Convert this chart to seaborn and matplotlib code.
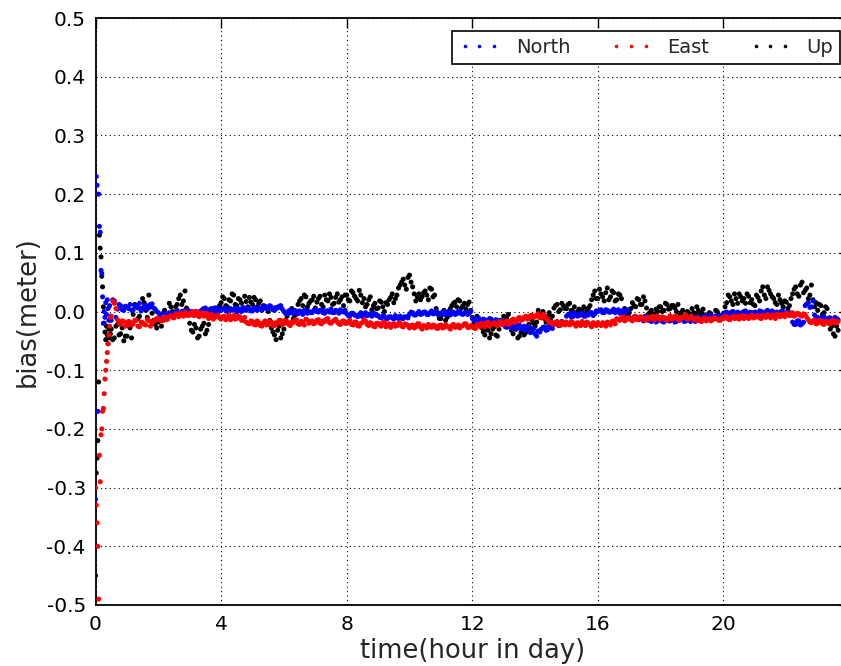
import numpy as np
import pandas as pd
import matplotlib
matplotlib.use("Agg")
import matplotlib.pyplot as plt
import seaborn as sns
from matplotlib.lines import Line2D
from matplotlib.ticker import MultipleLocator, FixedLocator, FuncFormatter

# ---------------- data (in millimetres) -------------
# convergence phase: 0.000 .. 0.475 h
early_hours = [0.000, 0.025, 0.050, 0.075, 0.100, 0.125, 0.150, 0.175, 0.200, 0.225,
               0.250, 0.275, 0.300, 0.325, 0.350, 0.375, 0.400, 0.425, 0.450, 0.475]
north_early_mm = [-320, 230, 215, -170, 200, 145, 135, 70, 65, 25,
                  -20, 0, -10, 15, -5, 20, 5, -15, 10, -8]
east_early_mm = [-300, -330, -360, -400, -490, -245, -290, -210, -200, -170,
                 -165, -140, -115, -100, -85, -70, -55, -40, -25, -10]
up_early_mm = [-450, -275, -250, -220, -120, 130, 108, 93, 60, 42,
               8, -20, -35, -48, -25, -40, -55, -30, -45, -38]

# steady phase, first sample set: 0.50 .. 23.60 h every 0.1 h
main_hours = [round(k / 10, 2) for k in range(5, 237)]
# steady phase, second sample set: 0.55 .. 23.65 h every 0.1 h
main_hours_b = [round(k / 10 + 0.05, 2) for k in range(5, 237)]

north_mm = [
    -15, 18, 4, 10, 2,
    8, 12, 3, 9, 14, 5, 11, 7, 13, 4,
    -2, -7, -4, -8, -3, -6, 2, -4, 1, -5,
    -3, -6, 0, -4, 3, 6, 1, 5, 0, 4,
    2, 6, 0, 5, 3, -1, 4, 7, 2, 5,
    1, 4, 7, 3, 9, 5, 8, 2, 6, 10,
    0, -4, 2, -3, -1, 1, -5, 2, 0, -2,
    3, -1, 2, -3, 1, 4, -2, 0, 3, -1,
    -4, -8, -3, -7, -5, -9, -2, -6, -8, -4,
    -7, -11, -8, -12, -9, -13, -10, -8, -12, -9,
    -5, -2, -6, 0, -4, -1, -5, 1, -3, -2,
    -4, 0, -3, -6, -1, -4, 1, -5, -2, -3,
    -12, -16, -11, -18, -14, -17, -13, -19, -15, -21,
    -22, -27, -20, -25, -29, -23, -28, -32, -26, -35,
    -38, -33, -30, -26, -31, -25, -22, -18, -23, -19,
    -8, -4, -9, -5, -7, -3, -8, -6, -2, -4,
    0, 3, -2, 2, -1, 4, 1, -3, 2, 0,
    -10, -13, -9, -14, -12, -8, -15, -17, -13, -16,
    -14, -18, -12, -16, -13, -17, -15, -11, -16, -14,
    -13, -17, -10, -14, -8, -11, -6, -10, -7, -9,
    -5, -1, -4, 0, -3, -6, -2, 1, -4, -2,
    -1, -4, 0, -3, 2, -2, -5, -1, -3, 0,
    -4, -2, -18, -22, -16, -21, 10, 15, 8, -6,
    -10, -14, -9, -13, -11, -15, -12,
]
north_mm_b = [
    20, -10, 12, 3, 9,
    5, 2, 10, 6, 1, 9, 4, 12, 6, 0,
    -6, -3, -9, -2, -6, -1, -5, 0, -6, 2,
    0, -2, -6, 1, 5, 1, 4, 0, 6, 2,
    5, 1, 4, 2, 6, 3, 0, 3, 5, 1,
    6, 2, 4, 8, 5, 10, 3, 7, 9, 4,
    -3, 1, -2, 2, -4, -1, 2, -3, -2, 2,
    0, 2, -2, 1, -1, -2, 2, -3, 0, 2,
    -7, -3, -6, -9, -2, -5, -7, -4, -3, -7,
    -10, -7, -13, -9, -11, -7, -12, -11, -9, -11,
    -1, -6, -3, -5, -1, -5, -2, -4, 0, -5,
    -1, -5, 0, -2, -5, 0, -4, -2, -5, 0,
    -15, -12, -17, -13, -19, -12, -18, -14, -20, -16,
    -26, -21, -28, -22, -24, -30, -25, -27, -36, -30,
    -42, -35, -27, -32, -24, -29, -19, -24, -17, -22,
    -5, -9, -3, -8, -4, -8, -5, -2, -7, 1,
    2, -2, 3, -1, 1, -2, 3, 0, -2, 3,
    -14, -9, -13, -10, -16, -12, -11, -14, -18, -12,
    -17, -13, -16, -12, -18, -14, -12, -17, -13, -17,
    -10, -13, -16, -9, -12, -7, -12, -8, -11, -6,
    -2, -5, -1, -5, -1, -3, 0, -4, -1, -5,
    -3, 1, -2, 0, -4, 1, -2, -4, 1, -3,
    -1, -6, -22, -16, -23, -18, 13, 7, 18, -10,
    -13, -9, -15, -11, -14, -10, -14,
]

east_mm = [
    -8, 14, -14, -22, -17,
    -24, -18, -21, -15, -26, -19, -23, -16, -20, -14,
    -12, -16, -9, -13, -7, -11, -6, -3, -8, -2,
    -6, 0, -4, -9, -2, -7, -12, -5, -10, -6,
    -13, -8, -11, -14, -7, -12, -9, -15, -18, -21,
    -17, -23, -19, -25, -16, -22, -18, -24, -20, -15,
    -21, -17, -24, -19, -14, -22, -18, -13, -20, -16,
    -19, -14, -21, -17, -12, -20, -15, -18, -22, -16,
    -20, -15, -23, -18, -25, -19, -16, -24, -21, -26,
    -20, -25, -18, -23, -27, -21, -24, -19, -26, -22,
    -28, -23, -26, -21, -30, -25, -22, -27, -24, -29,
    -23, -27, -25, -30, -22, -26, -28, -24, -21, -27,
    -25, -29, -23, -20, -26, -18, -22, -19, -24, -17,
    -21, -16, -20, -13, -17, -10, -14, -8, -12, -6,
    -9, -4, -11, -7, -15, -18, -22, -17, -24, -20,
    -18, -23, -19, -25, -21, -17, -24, -20, -26, -22,
    -19, -24, -21, -18, -23, -16, -12, -15, -9, -14,
    -11, -16, -8, -13, -10, -15, -9, -12, -14, -8,
    -13, -10, -15, -7, -12, -9, -14, -11, -6, -12,
    -10, -15, -12, -17, -11, -14, -16, -10, -13, -15,
    -12, -9, -14, -8, -11, -13, -7, -10, -12, -6,
    -10, -7, -12, -9, -5, -11, -8, -4, -9, -6,
    -3, -7, -2, -6, -4, -8, -5, -14, -19, -15,
    -20, -16, -22, -17, -21, -15, -19,
]
east_mm_b = [
    18, 5, -20, -16, -25,
    -17, -23, -15, -25, -18, -22, -14, -25, -17, -12,
    -15, -10, -14, -8, -10, -4, -9, -5, -1, -7,
    -2, -7, -1, -5, -8, -3, -9, -13, -7, -11,
    -9, -14, -6, -10, -13, -8, -15, -10, -20, -16,
    -22, -16, -24, -19, -23, -17, -24, -19, -15, -22,
    -16, -22, -18, -15, -21, -17, -23, -15, -18, -21,
    -15, -20, -16, -13, -19, -17, -13, -21, -17, -20,
    -17, -22, -18, -24, -20, -14, -22, -19, -25, -20,
    -23, -19, -26, -21, -22, -25, -20, -25, -21, -24,
    -24, -28, -21, -27, -24, -28, -25, -23, -28, -24,
    -28, -22, -27, -24, -27, -23, -25, -21, -27, -24,
    -28, -22, -26, -22, -19, -24, -20, -23, -18, -22,
    -18, -22, -15, -19, -12, -15, -10, -13, -7, -10,
    -6, -10, -5, -12, -19, -21, -18, -23, -18, -23,
    -21, -17, -22, -19, -24, -20, -18, -23, -19, -24,
    -22, -19, -25, -20, -17, -21, -14, -11, -16, -11,
    -14, -10, -14, -9, -13, -11, -13, -8, -10, -13,
    -9, -14, -11, -13, -8, -14, -10, -8, -13, -9,
    -14, -11, -15, -13, -16, -12, -13, -12, -15, -11,
    -8, -13, -10, -12, -8, -10, -12, -8, -9, -11,
    -8, -11, -6, -10, -8, -6, -12, -7, -5, -9,
    -5, -4, -8, -3, -7, -4, -10, -18, -16, -21,
    -15, -21, -17, -20, -16, -20, -17,
]

up_mm = [
    -30, -45, -22, -38, -50,
    -42, -28, -5, 10, -8, 22, 2, 28, -3, -22,
    -18, -25, 2, -6, 8, -2, 12, 28, 18, 6,
    -20, -35, -28, -42, -25, -38, -22, -5, 6, -3,
    15, 22, 8, 18, 28, 10, 20, 5, 17, 24,
    12, 20, 14, 2, 8, 0, -28, -40, -32, -45,
    -30, -8, -2, -12, 0, 18, 10, 25, 14, 20,
    6, 22, 12, 28, 18, 24, 14, 30, 20, 10,
    28, 18, 32, 22, 36, 15, 8, 20, 3, 14,
    6, 16, 0, 12, 24, 15, 28, 45, 55, 38,
    62, 42, 18, 30, 25, 35, 20, 38, 28, -5,
    -12, 2, -10, 5, 14, 8, 18, 10, 4, 16,
    -10, -18, -14, -28, -40, -32, -38, -26, -42, -15,
    -8, -12, -25, -38, -30, -42, -28, -36, -22, -15,
    -25, 2, -5, -12, -8, -15, 6, 12, 3, 10,
    5, 14, 0, -5, 4, 2, -4, 6, 20, 35,
    22, 30, 18, 40, 25, 32, 20, 28, -3, -8,
    -2, 15, 8, 20, 12, 18, -5, 2, -4, 0,
    8, 2, 12, 5, 10, 0, -6, 2, -8, -3,
    5, -4, 2, -2, -6, -12, -4, -10, 0, -8,
    -3, 15, 25, 12, 22, 30, 18, 14, 26, 20,
    10, 24, 35, 28, 42, 30, 22, 12, 20, 8,
    16, 10, 30, 42, 26, 50, 36, 22, 45, 8,
    2, 10, -2, 5, -30, -38, -25,
]
up_mm_b = [
    -48, -25, -40, -28, -42,
    -20, -45, 12, -12, 5, 15, -10, 8, -15, -28,
    -10, -15, -8, 14, 0, 8, 22, 12, 35, -2,
    -32, -22, -45, -30, -20, -32, -10, 2, -6, 10,
    25, 10, 20, 30, 12, 22, 14, 26, 8, 16,
    24, 8, 18, 10, 5, -15, -35, -48, -25, -38,
    -15, -3, 5, -6, 12, 22, 28, 8, 18, 26,
    16, 26, 8, 20, 30, 12, 24, 16, 25, 28,
    20, 35, 26, 18, 28, 22, 12, 25, 10, 5,
    18, 8, 15, 20, 30, 22, 40, 50, 45, 58,
    50, 30, 25, 20, 32, 28, 40, 25, 5, -12,
    -5, -15, 0, 10, 16, 20, 6, 14, 12, 2,
    -20, -8, -22, -35, -30, -45, -30, -40, -30, -20,
    -15, -5, -32, -30, -45, -35, -40, -30, -28, -20,
    -18, -10, 0, -18, -2, -8, 10, 0, 14, 5,
    12, 2, 8, 0, -4, 8, 2, 10, 28, 22,
    38, 25, 32, 20, 35, 18, 30, 22, 5, -12,
    5, 10, 22, 12, 25, 6, -2, -8, 4, 8,
    0, 14, 4, 10, 6, 12, -2, -8, 0, -10,
    -2, 8, -4, 4, -10, -2, -14, 2, -6, -12,
    8, 28, 18, 30, 14, 25, 22, 30, 15, 12,
    28, 18, 42, 22, 36, 25, 15, 28, 14, 18,
    5, 22, 38, 30, 45, 32, 40, 28, 20, 15,
    12, -5, 8, -20, -25, -42, -32,
]

series_names = ["North", "East", "Up"]
series_colors = ["blue", "red", "black"]
x_ticks = [0, 4, 8, 12, 16, 20]
y_ticks = [0.5, 0.4, 0.3, 0.2, 0.1, 0.0, -0.1, -0.2, -0.3, -0.4, -0.5]

# ---------------- build long table (Up drawn first, East on top) -------------------
hours_all = early_hours + main_hours + main_hours_b
frames = []
for name, early, main, main_b in [("Up", up_early_mm, up_mm, up_mm_b),
                                  ("North", north_early_mm, north_mm, north_mm_b),
                                  ("East", east_early_mm, east_mm, east_mm_b)]:
    assert len(main) == len(main_hours) and len(main_b) == len(main_hours_b), name
    vals = np.array(early + main + main_b, dtype=float) / 1000.0
    frames.append(pd.DataFrame({"hour": hours_all, "bias": vals, "series": name}))
df = pd.concat(frames, ignore_index=True)

# ---------------- style ---------------------------------------------------------
sns.set_theme(style="white")
plt.rcParams["font.family"] = ["DejaVu Sans"]
plt.rcParams["axes.unicode_minus"] = False

fig = plt.figure(figsize=(8.41, 6.66), dpi=100)
ax = fig.add_axes([95.5 / 841, 61 / 666, (31.4 * 24) / 841, 587 / 666])

palette = dict(zip(series_names, series_colors))
sns.scatterplot(data=df, x="hour", y="bias", hue="series", palette=palette,
                s=13, linewidth=0, marker="o", legend=False, ax=ax, zorder=3)

ax.set_xlim(0, 24)
ax.set_ylim(-0.5, 0.5)
ax.xaxis.set_major_locator(FixedLocator(x_ticks))
ax.yaxis.set_major_locator(FixedLocator(y_ticks))
ax.yaxis.set_minor_locator(MultipleLocator(0.05))
ax.yaxis.set_major_formatter(FuncFormatter(lambda v, p: f"{v:.1f}"))
ax.xaxis.set_major_formatter(FuncFormatter(lambda v, p: f"{v:g}"))

ax.tick_params(axis="both", which="both", direction="in", top=True, right=True,
               colors="black", labelsize=14.5)
ax.tick_params(axis="both", which="major", length=7, width=1, pad=7)
ax.tick_params(axis="y", which="minor", length=3.5, width=1)

ax.grid(True, which="major", color="black", linestyle=(0, (1, 3)), linewidth=0.8)
ax.set_axisbelow(True)
for sp in ax.spines.values():
    sp.set_color("black")
    sp.set_linewidth(1.3)

ax.set_xlabel("time(hour in day)", fontsize=18.5, labelpad=3)
ax.set_ylabel("bias(meter)", fontsize=18.5, labelpad=4)

handles = [Line2D([], [], linestyle="none", marker="o", markersize=2.6,
                  markeredgewidth=0, color=c) for c in series_colors]
leg = ax.legend(handles, series_names, numpoints=3, ncol=3, loc="upper right",
                bbox_to_anchor=(840 / 841, 1 - 31 / 666), bbox_transform=fig.transFigure,
                borderaxespad=0, fontsize=14, frameon=True, fancybox=False,
                framealpha=1, edgecolor="black", borderpad=0.35,
                handlelength=2.1, handletextpad=0.82, columnspacing=2.08)
leg.get_frame().set_linewidth(1.2)
leg.set_zorder(5)

fig.savefig("out.png", dpi=100)
